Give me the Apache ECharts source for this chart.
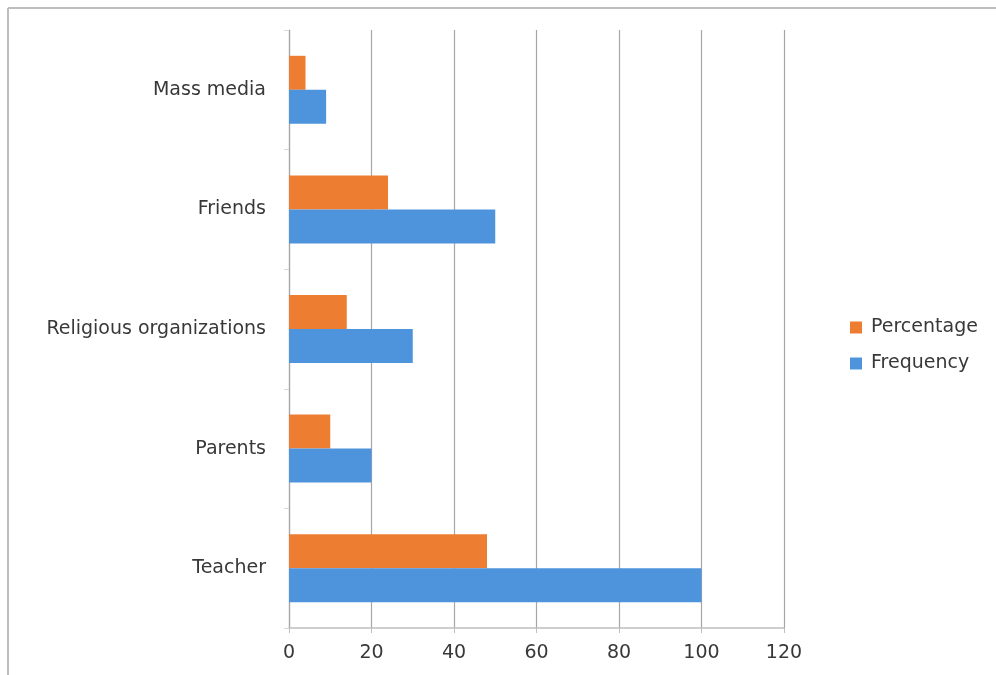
<!DOCTYPE html>
<html><head><meta charset="utf-8">
<script src="https://cdn.jsdelivr.net/npm/echarts@6/dist/echarts.min.js"></script>
<style>html,body{margin:0;padding:0;background:#fff}#c{width:996px;height:675px}</style>
</head><body><div id="c"></div>
<script>
const categories = ['Teacher', 'Parents', 'Religious organizations', 'Friends', 'Mass media'];
const percentage = [48, 10, 14, 24, 4];
const frequency = [100, 20, 30, 50, 9];
const xTicks = [0, 20, 40, 60, 80, 100, 120];

const chart = echarts.init(document.getElementById('c'));
chart.setOption({
  animation: false,
  backgroundColor: '#fff',
  textStyle: { fontFamily: '"DejaVu Sans", sans-serif' },
  graphic: [
    { type: 'line', shape: { x1: 8, y1: 8, x2: 996, y2: 8 }, style: { stroke: '#bdbdbd', lineWidth: 2 } },
    { type: 'line', shape: { x1: 8, y1: 8, x2: 8, y2: 675 }, style: { stroke: '#bdbdbd', lineWidth: 2 } }
  ],
  grid: { left: 289, right: 212, top: 30, bottom: 47, containLabel: false },
  legend: {
    data: ['Percentage', 'Frequency'],
    orient: 'vertical',
    left: 845, top: 313,
    itemWidth: 12, itemHeight: 12, itemGap: 17,
    icon: 'rect',
    textStyle: { fontSize: 19, color: '#383838', padding: [0, 0, 0, 4] }
  },
  xAxis: {
    type: 'value', min: xTicks[0], max: xTicks[xTicks.length - 1], interval: 20,
    axisLine: { show: true, lineStyle: { color: '#bfbfbf', width: 1.5 } },
    axisTick: { show: true, length: 5, lineStyle: { color: '#bfbfbf' } },
    axisLabel: { fontSize: 19, color: '#383838', margin: 16 },
    splitLine: { show: true, lineStyle: { color: '#a6a6a6', width: 1.2 } }
  },
  yAxis: {
    type: 'category', data: categories,
    axisLine: { show: true, lineStyle: { color: '#a6a6a6', width: 1.2 } },
    axisTick: { show: true, length: 5, lineStyle: { color: '#d9d9d9' } },
    axisLabel: { fontSize: 19, color: '#383838', margin: 23 }
  },
  series: [
    { name: 'Percentage', type: 'bar', data: percentage, barWidth: 34, barGap: '0%', itemStyle: { color: '#ed7d31' } },
    { name: 'Frequency', type: 'bar', data: frequency, barWidth: 34, barGap: '0%', itemStyle: { color: '#4e94dc' } }
  ]
});
</script></body></html>
